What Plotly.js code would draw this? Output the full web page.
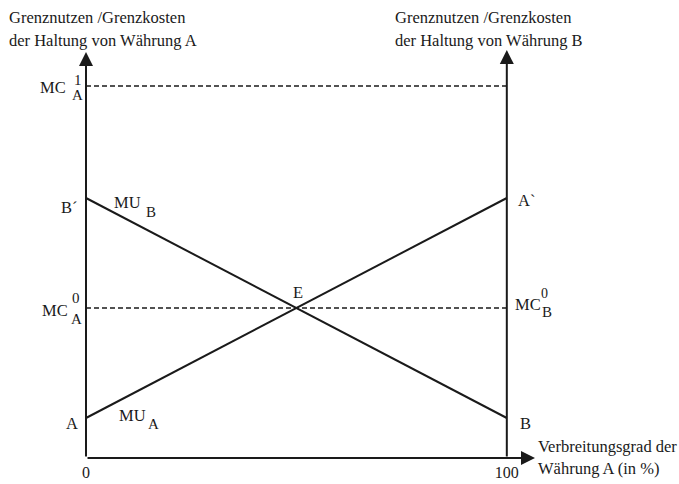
<!DOCTYPE html>
<html>
<head>
<meta charset="utf-8">
<script src="https://cdn.plot.ly/plotly-3.0.1.min.js"></script>
<style>
  html, body { margin: 0; padding: 0; background: #fff; }
  #chart { width: 679px; height: 484px; }
</style>
</head>
<body>
<div id="chart"></div>
<script>
// Verbreitungsgrad der Waehrung A (in %)
var share = [0, 100];
// Grenznutzen der Haltung von A bzw. B
var muA = [4, 26];
var muB = [26, 4];
// Grenzkosten
var mc0 = [15, 15];
var mc1 = [37.2, 37.2];
// Gleichgewicht E
var eShare = 50;
var eLevel = 15;
var xTicks = [0, 100];
var xTickText = ['0', '100'];

var xMax = 106.7;
var yMax = 40.8;
var ink = '#1a1a1a';
var serif = '"Liberation Serif", "DejaVu Serif", serif';

var solid = { color: ink, width: 2 };
var dashed = { color: ink, width: 1.3, dash: '5px,3px' };

var data = [
    { x: share, y: muB, mode: 'lines', line: solid, hoverinfo: 'skip' },
    { x: share, y: muA, mode: 'lines', line: solid, hoverinfo: 'skip' },
    { x: share, y: mc0, mode: 'lines', line: dashed, hoverinfo: 'skip' },
    { x: share, y: mc1, mode: 'lines', line: dashed, hoverinfo: 'skip' }
];

// text label in data coords, shifted in pixels
function lab(text, x, y, xanchor, dx, dy, size) {
    return {
        text: text, x: x, y: y, xref: 'x', yref: 'y',
        xanchor: xanchor, yanchor: 'middle',
        xshift: dx, yshift: dy, showarrow: false,
        font: { family: serif, size: size || 16.5, color: ink }
    };
}

// axis arrow
function arrow(x, y, ax, ay) {
    return {
        text: '', x: x, y: y, ax: ax, ay: ay,
        xref: 'x', yref: 'y', axref: 'x', ayref: 'y',
        showarrow: true, arrowhead: 2, arrowsize: 1.4,
        arrowwidth: 2, arrowcolor: ink, standoff: 0
    };
}

var annotations = [
    arrow(0, yMax - 0.2, 0, 0),
    arrow(share[1], yMax, share[1], 0),
    arrow(xMax, 0, 0, 0),

    // titles
    lab('Grenznutzen /Grenzkosten', 0, yMax, 'left', -79, 33),
    lab('der Haltung von Währung A', 0, yMax, 'left', -79, 10),
    lab('Grenznutzen /Grenzkosten', share[1], yMax, 'left', -114, 33),
    lab('der Haltung von Währung B', share[1], yMax, 'left', -114, 10),
    lab('Verbreitungsgrad der', xMax, 0, 'left', 1, 12),
    lab('Währung A (in %)', xMax, 0, 'left', 1, -10),

    // left side levels
    lab('A', share[0], muA[0], 'right', -6, -5),
    lab('B´', share[0], muB[0], 'right', -6, -9),
    lab('MC', share[0], mc0[0], 'right', -16, -2),
    lab('0', share[0], mc0[0], 'left', -16, 10, 15),
    lab('A', share[0], mc0[0], 'left', -17, -11, 15),
    lab('MC', share[0], mc1[0], 'right', -18, -1),
    lab('1', share[0], mc1[0], 'left', -14, 6, 15),
    lab('A', share[0], mc1[0], 'left', -16, -9, 15),

    // right side levels
    lab('A`', share[1], muA[1], 'left', 9, -2),
    lab('B', share[1], muB[1], 'left', 11, -5),
    lab('MC', share[1], mc0[1], 'left', 6, 4),
    lab('0', share[1], mc0[1], 'left', 32, 15, 14),
    lab('B', share[1], mc0[1], 'left', 33, -4, 15),

    // curves
    lab('MU', share[0], muB[0], 'left', 26, -4),
    lab('B', share[0], muB[0], 'left', 58, -14, 15),
    lab('MU', share[0], muA[0], 'left', 31, 3),
    lab('A', share[0], muA[0], 'left', 60, -6, 15),
    lab('E', eShare, eLevel, 'center', 2, 16)
];

var layout = {
    width: 679,
    height: 484,
    margin: { l: 86, r: 144, t: 50, b: 26 },
    paper_bgcolor: '#ffffff',
    plot_bgcolor: '#ffffff',
    showlegend: false,
    font: { family: serif, size: 16.5, color: ink },
    xaxis: {
        range: [0, xMax],
        tickvals: xTicks,
        ticktext: xTickText,
        ticks: '',
        showline: false,
        showgrid: false,
        zeroline: false,
        ticklabelstandoff: 3,
        tickfont: { family: serif, size: 16, color: ink },
        fixedrange: true
    },
    yaxis: {
        range: [0, yMax],
        visible: false,
        fixedrange: true
    },
    annotations: annotations
};

Plotly.newPlot('chart', data, layout, { displayModeBar: false, staticPlot: true });
</script>
</body>
</html>
